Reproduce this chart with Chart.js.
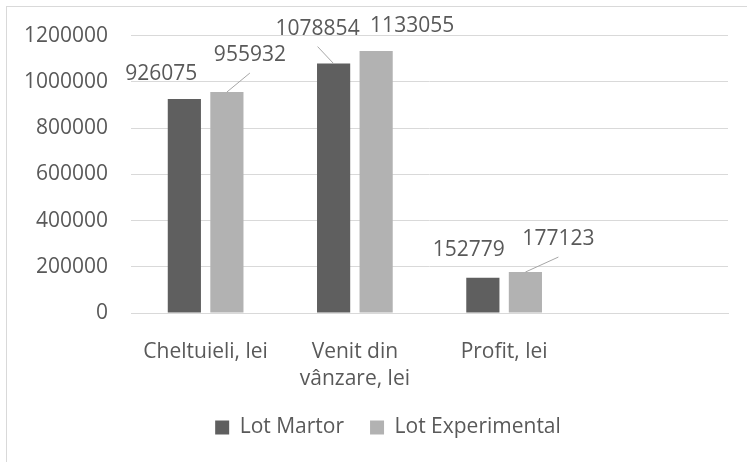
<!DOCTYPE html>
<html>
<head>
<meta charset="utf-8">
<script src="https://cdn.jsdelivr.net/npm/chart.js@4/dist/chart.umd.min.js"></script>
<style>
    body { margin: 0; background: #fff; }
    #wrap { position: relative; width: 747px; height: 462px; }
    #cadru { position: absolute; left: 6px; top: 6px; right: 0; bottom: 0;
             border-top: 1px solid #d9d9d9; border-left: 1px solid #d9d9d9; pointer-events: none; }
</style>
</head>
<body>
<div id="wrap">
    <canvas id="grafic" width="747" height="462"></canvas>
    <div id="cadru"></div>
</div>
<script>
// Date
const categorii = ['Cheltuieli, lei', ['Venit din', 'vânzare, lei'], 'Profit, lei', ''];
const lotMartor = [926075, 1078854, 152779, null];
const lotExperimental = [955932, 1133055, 177123, null];
const etichetaAxaY = [0, 200000, 400000, 600000, 800000, 1000000, 1200000];

// Deplasarea etichetelor fata de varful barei [dx, dy, linie de legatura]
const deplasari = [
    [[-23, -25, false], [-16, -35, true], [-14, -28, false]],
    [[23, -37, true], [36, -25, false], [33, -33, true]]
];

const culoareText = '#595959';
const font = 'Open Sans';

const eticheteBare = {
    id: 'eticheteBare',
    afterLayout(chart) {
        // legenda e centrata putin mai la dreapta, ca in original
        chart.legend.left += 24;
        chart.legend.right += 24;
    },
    afterDatasetsDraw(chart) {
        const ctx = chart.ctx;
        ctx.save();
        ctx.font = '21px "' + font + '"';
        ctx.textAlign = 'center';
        ctx.textBaseline = 'middle';
        chart.data.datasets.forEach((ds, i) => {
            chart.getDatasetMeta(i).data.forEach((bar, j) => {
                const v = ds.data[j];
                if (v == null) return;
                const [dx, dy, linie] = deplasari[i][j];
                const x = bar.x + dx;
                const y = bar.y + dy;
                if (linie) {
                    ctx.strokeStyle = '#a6a6a6';
                    ctx.lineWidth = 1;
                    ctx.beginPath();
                    ctx.moveTo(bar.x, bar.y);
                    ctx.lineTo(x, y + 18);
                    ctx.stroke();
                }
                ctx.fillStyle = culoareText;
                ctx.fillText(String(v), x, y);
            });
        });
        ctx.restore();
    }
};

new Chart(document.getElementById('grafic'), {
    type: 'bar',
    data: {
        labels: categorii,
        datasets: [{
            label: 'Lot Martor',
            data: lotMartor,
            backgroundColor: '#5f5f5f',
            categoryPercentage: 0.57,
            barPercentage: 0.78
        }, {
            label: 'Lot Experimental',
            data: lotExperimental,
            backgroundColor: '#b2b2b2',
            categoryPercentage: 0.57,
            barPercentage: 0.78
        }]
    },
    options: {
        responsive: false,
        animation: false,
        layout: { padding: { left: 0, right: 19, top: 35, bottom: 14 } },
        plugins: {
            legend: {
                position: 'bottom',
                labels: {
                    boxWidth: 14,
                    boxHeight: 14,
                    padding: 26,
                    color: culoareText,
                    font: { family: font, size: 21 }
                }
            },
            tooltip: { enabled: false }
        },
        scales: {
            x: {
                grid: { display: false },
                border: { color: '#d9d9d9', width: 1 },
                ticks: {
                    color: culoareText,
                    padding: 18,
                    maxRotation: 0,
                    font: { family: font, size: 21, lineHeight: 1.27 }
                },
                afterFit(s) { s.height = 78; }
            },
            y: {
                min: 0,
                max: 1200000,
                afterBuildTicks(s) { s.ticks = etichetaAxaY.map(v => ({ value: v })); },
                grid: { color: '#d9d9d9', drawTicks: false },
                border: { display: false },
                ticks: {
                    color: culoareText,
                    padding: 23,
                    font: { family: font, size: 21 },
                    callback: v => String(v)
                },
                afterFit(s) { s.width = 131; }
            }
        }
    },
    plugins: [eticheteBare]
});
</script>
</body>
</html>
